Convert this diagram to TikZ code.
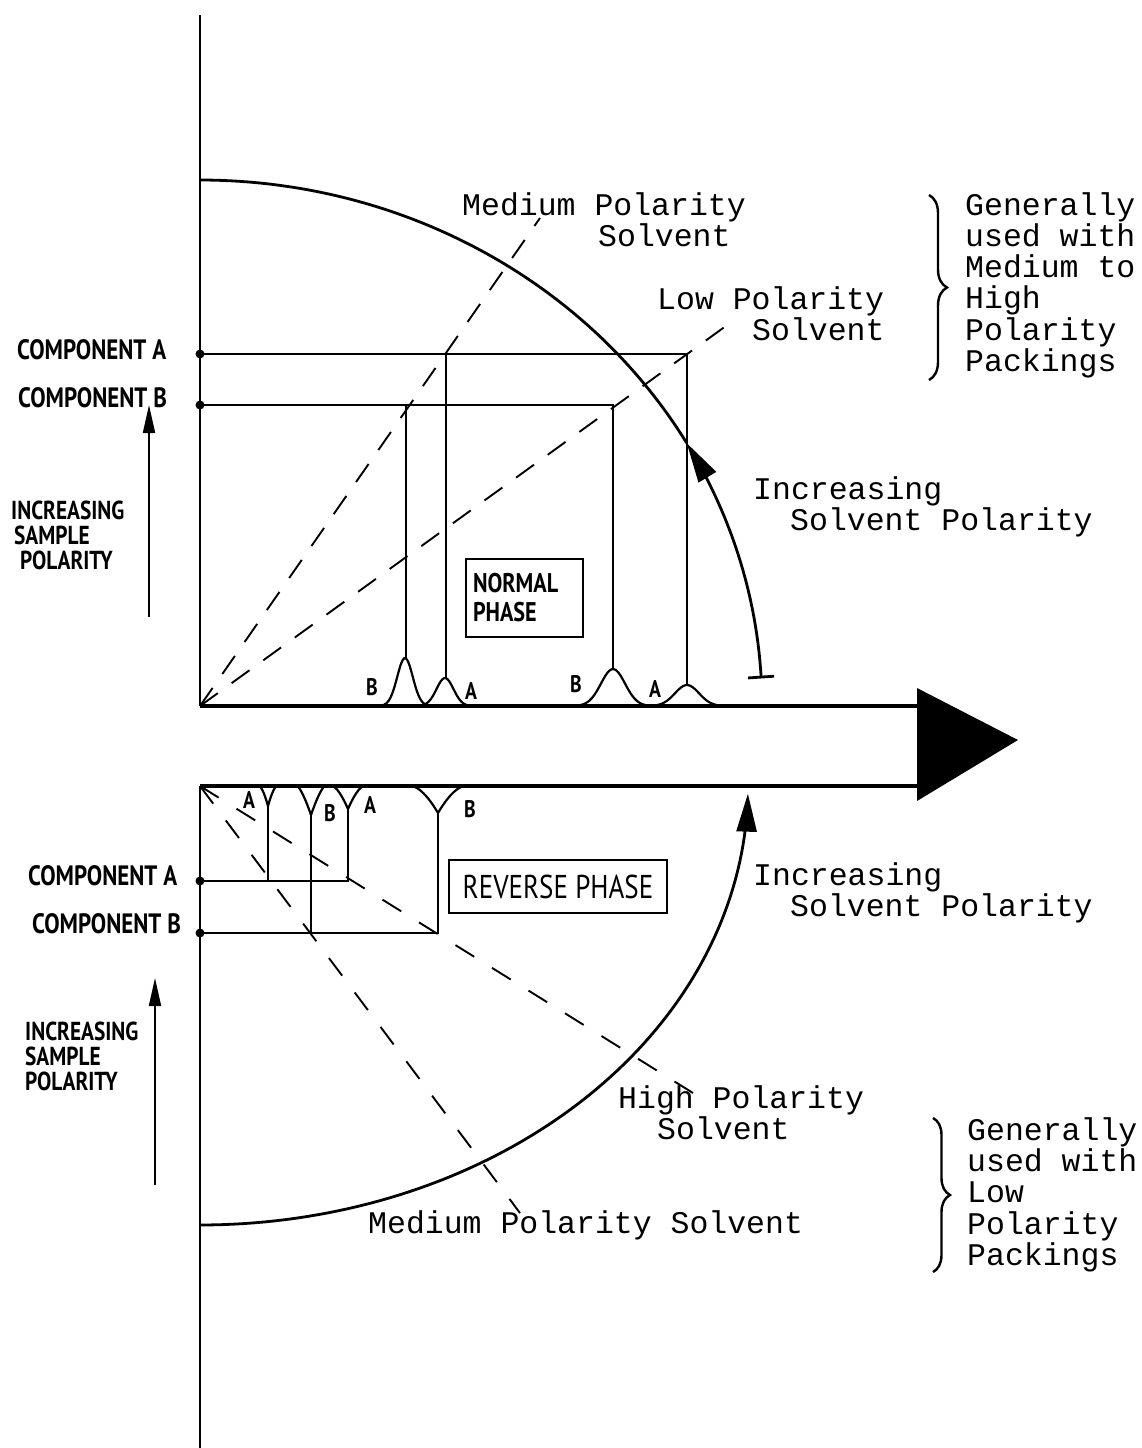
\documentclass[tikz,border=0pt]{standalone}
\usepackage{fontspec}
\usepackage{graphicx}
\setmainfont{Liberation Mono}
\newfontfamily\hand[FakeStretch=0.82]{PT Sans}
\usetikzlibrary{arrows.meta,decorations.pathreplacing}
\begin{document}
\begin{tikzpicture}[x=1pt,y=-1pt,
  tw/.style={font=\fontsize{31.5}{31}\selectfont, inner sep=0pt, anchor=base west},
  hw/.style={font=\hand\bfseries\fontsize{28}{23}\selectfont, inner sep=0pt, align=left},
  hwb/.style={font=\hand\bfseries\fontsize{28}{23}\selectfont, inner sep=0pt, align=left},
  stack/.style={font=\hand\bfseries\fontsize{26}{25}\selectfont, inner sep=0pt, align=left},
  pk/.style={font=\hand\bfseries\fontsize{24}{24}\selectfont, inner sep=0pt},
  axisline/.style={line width=2pt},
  guide/.style={line width=1.5pt},
  peakline/.style={line width=2.2pt},
  solv/.style={line width=1.9pt, dash pattern=on 22pt off 17pt},
  solvlow/.style={line width=1.9pt, dash pattern=on 22pt off 21pt},
  arcline/.style={line width=2.8pt},
  phasebox/.style={draw, line width=2.8pt, inner sep=0pt},
  bracestyle/.style={line width=2.4pt, decorate},
  samplearrow/.style={line width=1.9pt, -{Triangle[length=28pt,width=12pt]}}
]
\useasboundingbox (0,0) rectangle (1141,1448);

% ---------- key coordinates
\coordinate (O1) at (200,706);
\coordinate (O2) at (200,786);
\coordinate (cA) at (200,354);
\coordinate (cB) at (200,405);
\coordinate (rA) at (200,881);
\coordinate (rB) at (200,933);

% ---------- axes and big arrow
\draw[axisline] (200,15) -- (O1);
\draw[axisline] (O2) -- (200,1448);
\coordinate (shaftT) at (919,706);
\coordinate (shaftB) at (919,786);
\draw[line width=3.6pt] (O1) -- (shaftT);
\draw[line width=3.6pt] (O2) -- (shaftB);
\fill (917,688) -- (1018,740) -- (917,801) -- cycle;

% ---------- upper (normal phase)
\coordinate (nA2) at (687,354);
\coordinate (nB2) at (613,405);
\coordinate (nA1) at (446,354);
\coordinate (nB1) at (406,405);
\draw[guide] (cA) -- (nA2) -- (687,685);
\draw[guide] (cB) -- (nB2) -- (613,669);
\draw[guide] (nA1) -- (446,678);
\draw[guide] (nB1) -- (406,658);
\fill (cA) circle (4.5pt);
\fill (cB) circle (4.5pt);

\draw[peakline] plot[domain=-3.2:3.2,samples=50,smooth] ({405+11*\x},{706-48*exp(-(\x)*(\x))});
\draw[peakline] plot[domain=-3.2:3.2,samples=50,smooth] ({445+12*\x},{706-28*exp(-(\x)*(\x))});
\draw[peakline] plot[domain=-3.2:3.2,samples=50,smooth] ({613+17*\x},{706-37*exp(-(\x)*(\x))});
\draw[peakline] plot[domain=-3.2:3.2,samples=50,smooth] ({687+17*\x},{706-21*exp(-(\x)*(\x))});
\node[pk] (pB1) at (372,687) {B};
\node[pk] (pA1) at (471,691) {A};
\node[pk] (pB2) at (576,684) {B};
\node[pk] (pA2) at (655,689) {A};

\coordinate (medEnd) at (540,218);
\coordinate (lowEnd) at (737,318);
\draw[solv] (O1) -- (medEnd);
\draw[solv] (O1) -- (lowEnd);

\draw[arcline] plot[domain=30:90,samples=60] ({200+562*cos(\x)},{706-526*sin(\x)});
\draw[arcline, {Bar[width=26pt]}-{Triangle[length=40pt,width=20pt]}]
  plot[domain=3:30,samples=40] ({200+562*cos(\x)},{706-526*sin(\x)});

\node[phasebox, minimum width=117pt, minimum height=78pt, align=left,
      font=\hand\bfseries\fontsize{27}{29}\selectfont, text width=103pt] (normal) at (524.5,598) {NORMAL\\PHASE};

\node[hw, anchor=west] (compA1) at (17,350) {COMPONENT A};
\node[hw, anchor=west] (compB1) at (18,398) {COMPONENT B};
\node[stack, anchor=west] (incr1) at (11,535) {INCREASING\\\hspace*{3pt}SAMPLE\\\hspace*{9pt}POLARITY};
\draw[samplearrow] (149,617) -- (149,405);

\node[tw] (t1) at (462,215) {Medium Polarity};
\node[tw] (t2) at (598,246) {Solvent};
\node[tw] (t3) at (657,309) {Low Polarity};
\node[tw] (t4) at (752,340) {Solvent};
\node[tw] (t5) at (753,499) {Increasing};
\node[tw] (t6) at (790,530) {Solvent Polarity};

\draw[bracestyle, decoration={brace, amplitude=18pt}] (929,195) -- (929,380);
\node[tw] (g1) at (965,215) {Generally};
\node[tw] (g2) at (965,246) {used with};
\node[tw] (g3) at (965,277) {Medium to};
\node[tw] (g4) at (965,308) {High};
\node[tw] (g5) at (965,340) {Polarity};
\node[tw] (g6) at (965,371) {Packings};

% ---------- lower (reverse phase)
\coordinate (rvA1) at (268,806);
\coordinate (rvB1) at (311,815);
\coordinate (rvA2) at (348,809);
\coordinate (rvB2) at (438,813);
\draw[guide] (rvA1) -- (268,881);
\draw[guide] (rvB1) -- (311,933);
\draw[guide] (rA) -- (348,881) -- (rvA2);
\draw[guide] (rB) -- (438,933) -- (rvB2);
\fill (rA) circle (4.5pt);
\fill (rB) circle (4.5pt);

\draw[peakline] plot[domain=-1:1,samples=41] ({268+9*\x},{786+20*(1-abs(\x))^1.6});
\draw[peakline] plot[domain=-1:1,samples=41] ({311+14*\x},{786+29*(1-abs(\x))^1.4});
\draw[peakline] plot[domain=-1:1,samples=41] ({348+16*\x},{786+23*(1-abs(\x))^1.6});
\draw[peakline] plot[domain=-1:1,samples=41] ({438+27*\x},{786+27*(1-abs(\x))^1.7});
\node[pk] (qA1) at (249,800) {A};
\node[pk] (qB1) at (330,813) {B};
\node[pk] (qA2) at (370,805) {A};
\node[pk] (qB2) at (470,809) {B};

\coordinate (highEnd) at (693,1093);
\coordinate (medLowEnd) at (520,1213);
\draw[solvlow] (O2) -- (highEnd);
\draw[solvlow] (O2) -- (medLowEnd);

\draw[arcline, -{Triangle[length=38pt,width=20pt]}]
  plot[domain=90:1,samples=80] ({200+548*cos(\x)},{786+439*sin(\x)});

\node[phasebox, minimum width=218pt, minimum height=53pt,
      font=\hand\fontsize{33}{33}\selectfont] (reverse) at (558,886.5) {REVERSE PHASE};

\node[hwb, anchor=west] (compA2) at (28,876) {COMPONENT A};
\node[hwb, anchor=west] (compB2) at (32,924) {COMPONENT B};
\node[stack, anchor=west] (incr2) at (25,1056) {INCREASING\\SAMPLE\\POLARITY};
\draw[samplearrow] (155,1185) -- (155,978);

\node[tw] (u1) at (753,885) {Increasing};
\node[tw] (u2) at (790,916) {Solvent Polarity};
\node[tw] (u3) at (618,1108) {High Polarity};
\node[tw] (u4) at (657,1139) {Solvent};
\node[tw] (u5) at (368,1233) {Medium Polarity Solvent};

\draw[bracestyle, decoration={brace, amplitude=17pt}] (933,1118) -- (933,1272);
\node[tw] (h1) at (967,1140) {Generally};
\node[tw] (h2) at (967,1171) {used with};
\node[tw] (h3) at (967,1202) {Low};
\node[tw] (h4) at (967,1234) {Polarity};
\node[tw] (h5) at (967,1265) {Packings};
\end{tikzpicture}
\end{document}
